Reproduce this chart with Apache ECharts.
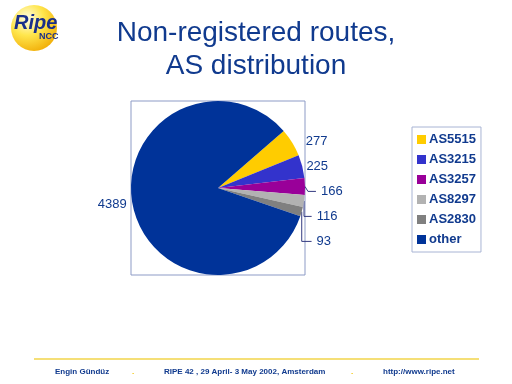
<!DOCTYPE html>
<html><head><meta charset="utf-8">
<script src="https://cdn.jsdelivr.net/npm/echarts@6/dist/echarts.min.js"></script>
<style>html,body{margin:0;padding:0;background:#fff}#c{width:512px;height:384px}</style>
</head><body><div id="c"></div>
<script>
const categories = ['AS5515','AS3215','AS3257','AS8297','AS2830','other'];
const values = [277, 225, 166, 116, 93, 4389];
const colors = ['#ffcc00','#3333cc','#990099','#b2b2b2','#808080','#003399'];
const lineShown = [false, false, true, true, true, false];
const lineLen = [3, 0, 8, 8, 8, 1];
const lineLen2 = [6, 3, 8, 8, 20, 0];
const blue = '#103a8e';
const chart = echarts.init(document.getElementById('c'), null, {renderer:'canvas'});
chart.setOption({
  backgroundColor:'#fff',
  animation:false,
  title:{text:'Non-registered routes,\nAS distribution', left:'center', top:12,
    textStyle:{fontFamily:'Liberation Sans', fontWeight:'normal', fontSize:28, lineHeight:33, color:blue}},
  legend:{orient:'vertical', left:412, top:127, itemWidth:9, itemHeight:9, itemGap:7,
    padding:[6,5,6,5], borderColor:'#a8b4d4', borderWidth:1, icon:'rect',
    data:categories,
    textStyle:{fontFamily:'Liberation Sans', fontWeight:'bold', fontSize:13, color:blue, padding:[0,0,0,-2]}},
  graphic:[
    {type:'rect', shape:{x:131,y:101,width:174,height:174}, style:{fill:'none', stroke:'#8d9bc6', lineWidth:1}, z:-1},
    {type:'line', shape:{x1:34,y1:359,x2:479,y2:359}, style:{stroke:'#f2d44a', lineWidth:1.5}},
    {type:'text', left:55, top:368, style:{text:'Engin Gündüz', font:'bold 8px Liberation Sans', fill:blue}},
    {type:'text', left:132, top:368, style:{text:'.', font:'bold 8px Liberation Sans', fill:'#f2c400'}},
    {type:'text', left:164, top:368, style:{text:'RIPE 42 , 29 April- 3 May 2002, Amsterdam', font:'bold 8px Liberation Sans', fill:blue}},
    {type:'text', left:351, top:368, style:{text:'.', font:'bold 8px Liberation Sans', fill:'#f2c400'}},
    {type:'text', left:383, top:368, style:{text:'http://www.ripe.net', font:'bold 8px Liberation Sans', fill:blue}},
    {type:'circle', shape:{cx:34,cy:28,r:23}, style:{fill:new echarts.graphic.RadialGradient(0.35,0.3,0.8,[{offset:0,color:'#fffde8'},{offset:0.45,color:'#ffe64d'},{offset:1,color:'#f0a800'}])}},
    {type:'text', x:14, y:13, style:{text:'Ripe', font:'italic bold 20px Liberation Sans', fill:'#1a2f8a'}},
    {type:'text', x:39, y:32, style:{text:'NCC', font:'bold 9px Liberation Sans', fill:'#1a2f8a'}}
  ],
  series:[{
    type:'pie', center:[218,188], radius:87, startAngle:41, clockwise:true,
    avoidLabelOverlap:true,
    label:{show:true, formatter:'{c}', fontFamily:'Liberation Sans', fontSize:13, lineHeight:23, color:blue},
    labelLine:{show:true, length:8, length2:8, lineStyle:{color:'#333a80', width:1}},
    data:categories.map((n,i)=>({name:n, value:values[i], itemStyle:{color:colors[i]},
      labelLine:{show:lineShown[i], length:lineLen[i], length2:lineLen2[i]}}))
  }]
});
</script></body></html>
